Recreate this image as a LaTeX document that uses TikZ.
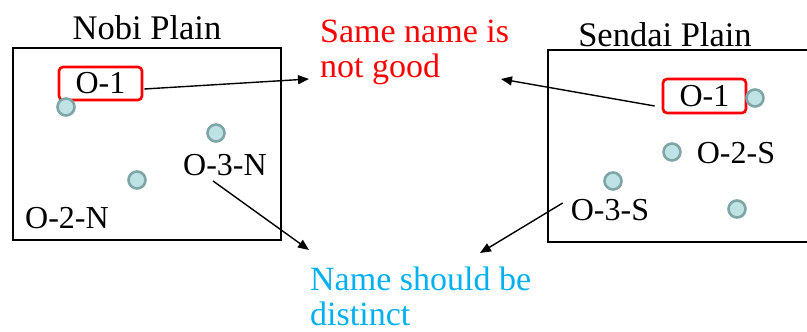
\documentclass[tikz,border=0pt]{standalone}
\usepackage{fontspec}
\setmainfont{Liberation Serif}
\usetikzlibrary{arrows.meta,calc}
\definecolor{dotfill}{HTML}{BFE3E5}
\definecolor{dotline}{HTML}{7FA5A7}
\definecolor{namered}{HTML}{FF0000}
\definecolor{nameblue}{HTML}{00B0F0}
\begin{document}
\begin{tikzpicture}[x=1pt,y=-1pt,
  lbl/.style={font=\fontsize{32}{36}\selectfont, inner sep=0pt},
  ttl/.style={font=\fontsize{34.5}{36}\selectfont, inner sep=0pt, anchor=base},
  redbox/.style={lbl, draw=namered, line width=2.6pt, rounded corners=4pt, minimum width=83pt, minimum height=33pt},
  dot/.style={circle, draw=dotline, fill=dotfill, line width=2.6pt, minimum size=17pt, inner sep=0pt},
  plain/.style={draw=black, line width=1.3pt},
  conn/.style={line width=1.4pt, -{Triangle[length=11pt,width=9pt]}},
  note/.style={font=\fontsize{34}{35}\selectfont, inner sep=0pt, anchor=base west, align=left}]
\useasboundingbox (0,0) rectangle (807,332);
% plain boxes
\draw[plain] (13,48) rectangle (281,240);
\draw[plain] (548,50) rectangle (820,242);
% titles
\node[ttl] (tn) at (147,39) {Nobi Plain};
\node[ttl] (ts) at (665,46) {Sendai Plain};
% Nobi
\node[redbox] (o1n) at (100.5,83.5) {O-1};
\node[dot] (d1n) at (66,107) {};
\node[dot] (d3n) at (216,133) {};
\node[dot] (d2n) at (137,180) {};
\node[lbl] (o3n) at (225,165) {O-3-N};
\node[lbl] (o2n) at (67,218) {O-2-N};
% Sendai
\node[redbox, minimum height=34pt] (o1s) at (704.5,96) {O-1};
\node[dot] (d1s) at (755,98) {};
\node[dot] (d2s) at (672,152) {};
\node[lbl] (o2s) at (736,153) {O-2-S};
\node[dot] (d3s) at (613,181) {};
\node[lbl] (o3s) at (610,210) {O-3-S};
\node[dot] (d4s) at (737,209) {};
% notes (anchor is baseline of last line)
\node[note, text=namered] (same) at (320,77) {Same name is\\not good};
\node[note, text=nameblue] (dist) at (310,325) {Name should be\\distinct};
% arrow targets
\coordinate (t1) at (309,79);
\coordinate (t2) at (501,79);
\coordinate (t3) at (309,250);
\coordinate (t4) at (480,253);
% connectors
\draw[conn] ($(o1n.east)+(1,5.5)$) -- (t1);
\draw[conn] ($(o1s.west)+(-7,10)$) -- (t2);
\draw[conn] ($(o3n.south)+(-12,5)$) -- (t3);
\draw[conn] ($(o3s.west)+(-8,-7)$) -- (t4);
\end{tikzpicture}
\end{document}
